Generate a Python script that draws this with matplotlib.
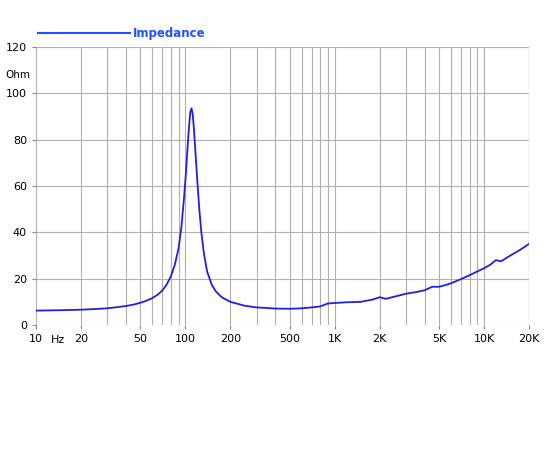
import matplotlib
matplotlib.use("Agg")
import matplotlib.pyplot as plt
import numpy as np

freq = [10, 15, 20, 25, 30, 35, 40, 45, 50, 55, 60, 65, 70, 75, 80, 85, 90, 94, 98, 101, 104, 106, 108, 110, 112, 114, 117, 120, 124, 128, 133, 140, 150, 160, 175, 200, 250, 300, 400, 500, 600, 700, 800, 900, 1000, 1200, 1500, 1800, 2000, 2200, 2500, 3000, 3500, 4000, 4500, 5000, 5500, 6000, 7000, 8000, 10000, 11000, 12000, 13000, 15000, 17500, 20000]
imp = [6.2, 6.4, 6.6, 6.9, 7.2, 7.7, 8.2, 8.8, 9.6, 10.5, 11.6, 13.0, 14.8, 17.5, 21.0, 26.0, 33.0, 42.0, 55.0, 66.0, 79.0, 86.0, 92.0, 93.5, 91.0, 85.0, 74.0, 63.0, 50.0, 40.0, 31.0, 23.0, 17.5, 14.5, 12.0, 10.0, 8.3, 7.6, 7.1, 7.0, 7.2, 7.6, 8.0, 9.3, 9.5, 9.8, 10.0, 11.0, 12.0, 11.3, 12.2, 13.5, 14.2, 15.0, 16.5, 16.5, 17.2, 18.0, 19.8, 21.5, 24.5, 26.0, 28.0, 27.5, 30.0, 32.5, 35.0]
tick_vals = [10, 20, 50, 100, 200, 500, 1000, 2000, 5000, 10000, 20000]
tick_labels = ["10", "20", "50", "100", "200", "500", "1K", "2K", "5K", "10K", "20K"]

fig = plt.figure(figsize=(5.5, 4.5), dpi=100)
ax = fig.add_axes([36/550, 1-325/450, (529-36)/550, (325-47)/450])
ax.plot(freq, imp, color="#2020e0", lw=1.3)
ax.set_xscale("log")
ax.set_xlim(10, 20000)
ax.set_ylim(0, 120)
grid = [m * 10**e for e in range(1, 5) for m in range(1, 10)] + [20000]
for g in grid:
    ax.axvline(g, color="#b0b0b0", lw=0.8, zorder=0)
for y in range(0, 121, 20):
    ax.axhline(y, color="#b0b0b0", lw=0.8, zorder=0)
ax.set_xticks(tick_vals)
ax.set_xticklabels(tick_labels, fontsize=8)
ax.minorticks_off()
ax.set_yticks(range(0, 121, 20))
ax.tick_params(labelsize=8, length=3, color="#888888")
for s in ax.spines.values():
    s.set_visible(False)
ax.text(-0.036, 108, "Ohm", fontsize=7.5, transform=ax.get_yaxis_transform(), ha="center", va="center")
ax.text(14, -4.5, "Hz", fontsize=8, ha="center", va="top")
fig.lines.append(plt.Line2D([38/550, 130/550], [1-33/450]*2, color="#2050ff", lw=1.5, transform=fig.transFigure))
fig.text(133/550, 1-33/450, "Impedance", color="#2050ff", fontsize=8.5, va="center", fontweight="bold")
fig.savefig("out.png", dpi=100)
